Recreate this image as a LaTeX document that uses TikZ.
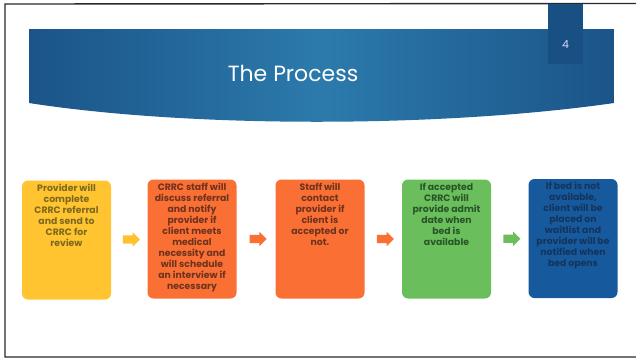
\documentclass[tikz,border=0pt]{standalone}
\usepackage{fontspec}
\setmainfont{Poppins}
\usetikzlibrary{shapes.arrows,calc}
\definecolor{frameline}{RGB}{40,40,40}
\definecolor{bannerdark}{RGB}{27,84,136}
\definecolor{bannerlight}{RGB}{44,122,172}
\definecolor{tabblue}{RGB}{24,80,132}
\definecolor{yellowbox}{RGB}{255,196,47}
\definecolor{yellowtext}{RGB}{125,105,30}
\definecolor{orangebox}{RGB}{250,112,52}
\definecolor{orangetext}{RGB}{110,50,30}
\definecolor{greenbox}{RGB}{107,190,92}
\definecolor{greentext}{RGB}{40,85,40}
\definecolor{bluebox}{RGB}{22,89,156}
\definecolor{bluetext}{RGB}{20,52,92}
\newcommand{\boxtext}[1]{\parbox[t][112pt][t]{82pt}{\centering #1}}
\begin{document}
\begin{tikzpicture}[x=1pt,y=-1pt,
  procbox/.style={rounded corners=6pt,inner sep=3.5pt,minimum width=89pt,
    font=\bfseries\fontsize{9.3}{11}\selectfont},
  flowarrow/.style={single arrow,minimum height=17pt,
    single arrow head extend=3pt,inner sep=4pt}]
\useasboundingbox (0,0) rectangle (636,360);
% slide frame
\draw [frameline,line width=1.4pt] (636,3.5) -- (5,4) -- (5,357) -- (636,357);
% title banner
\shade [left color=bannerdark,right color=bannerdark,middle color=bannerlight]
  (29,29) -- (614,29) -- (614,103) .. controls (440,128) and (190,128) .. (29,103) -- cycle;
\fill [tabblue] (548,4) rectangle (583,64);
\node [text=white!85!blue,font=\fontsize{11}{12}\selectfont] (num) at (565.5,45) {4};
\node [text=white,font=\fontsize{22}{26}\selectfont] (title) at (293,73) {The Process};
% process steps
\node [procbox,fill=yellowbox,text=yellowtext] (p1) at (66.5,240)
  {\boxtext{Provider will\\complete\\CRRC referral\\and send to\\CRRC for\\review}};
\node [procbox,fill=orangebox,text=orangetext] (p2) at (192,239)
  {\boxtext{CRRC staff will\\discuss referral\\and notify\\provider if\\client meets\\medical\\necessity and\\will schedule\\an interview if\\necessary}};
\node [procbox,fill=orangebox,text=orangetext] (p3) at (320,239)
  {\boxtext{Staff  will\\contact\\provider if\\client is\\accepted or\\not.}};
\node [procbox,fill=greenbox,text=greentext] (p4) at (446.5,239)
  {\boxtext{If accepted\\CRRC will\\provide admit\\date when\\bed is\\available}};
\node [procbox,fill=bluebox,text=bluetext] (p5) at (573,238.5)
  {\boxtext{If bed is not\\available,\\client will be\\placed on\\waitlist and\\provider will be\\notified when\\bed opens}};
% arrows between steps
\node [flowarrow,fill=yellowbox!95!orange] (a1) at ($(p1.east)!0.5!(p2.west)$) {};
\node [flowarrow,fill=orangebox] (a2) at ($(p2.east)!0.5!(p3.west)$) {};
\node [flowarrow,fill=orangebox] (a3) at ($(p3.east)!0.5!(p4.west)$) {};
\node [flowarrow,fill=greenbox] (a4) at ($(p4.east)!0.5!(p5.west)$) {};
\end{tikzpicture}
\end{document}
